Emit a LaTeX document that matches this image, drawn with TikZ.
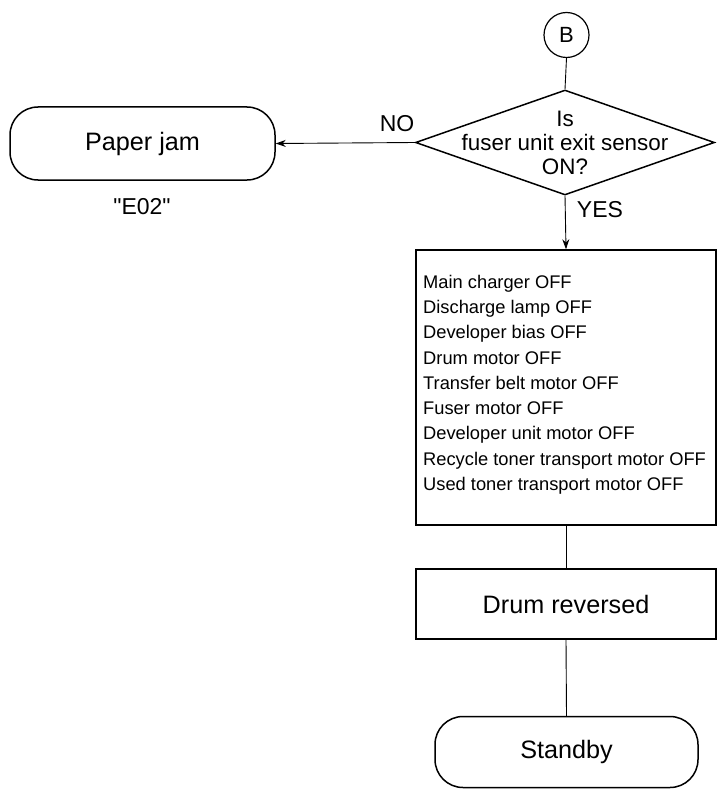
\documentclass[tikz,border=0pt]{standalone}
\usepackage{fontspec}
\setmainfont{Liberation Sans}
\usetikzlibrary{shapes.geometric,arrows.meta}
\newcommand{\straightquote}{\XeTeXglyph\XeTeXcharglyph"22\relax}
\begin{document}
\begin{tikzpicture}[x=1pt,y=-1pt,
  outline/.style={draw,line width=1.5pt,inner sep=0pt},
  termbox/.style={outline,rectangle,rounded corners=28pt,font=\fontsize{25.2}{28}\selectfont},
  procbox/.style={outline,rectangle,font=\fontsize{25.2}{28}\selectfont},
  conn/.style={line width=0.9pt},
  arr/.style={conn,-{Stealth[length=10pt,width=7pt]}},
  lbl/.style={font=\fontsize{23}{26}\selectfont,inner sep=0pt}]
\useasboundingbox (0,0) rectangle (716,789);
\node[draw,line width=1.2pt,circle,minimum size=45pt,inner sep=0pt,font=\fontsize{22}{24}\selectfont] (B) at (566.5,35) {B};
\node[outline,diamond,minimum width=299pt,minimum height=105pt,
  label={[align=center,font=\fontsize{22.4}{24}\selectfont]center:Is\\fuser unit exit sensor\\ON?}] (dec) at (565,142.5) {};
\node[termbox,minimum width=265pt,minimum height=73pt] (jam) at (142.5,143.5) {Paper jam};
\node[lbl] (e02) at (142,207) {\straightquote E02\straightquote};
\node[outline,rectangle,minimum width=300pt,minimum height=275pt] (offbox) at (566,387.5) {};
\node[anchor=north west,align=left,inner sep=0pt,font=\fontsize{18.3}{25.25}\selectfont] (offlist) at (423,275)
{Main charger OFF\\Discharge lamp OFF\\Developer bias OFF\\Drum motor OFF\\Transfer belt motor OFF\\Fuser motor OFF\\Developer unit motor OFF\\Recycle toner transport motor OFF\\Used toner transport motor OFF};
\node[procbox,minimum width=300pt,minimum height=70pt] (drum) at (566,604) {Drum reversed};
\node[termbox,minimum width=263pt,minimum height=71pt] (stby) at (566.5,752) {Standby};
\draw[conn] (B.south) -- (dec.north);
\draw[arr] (dec.west) -- (jam.east);
\draw[arr] (dec.south) -- (offbox.north);
\draw[conn] (offbox.south) -- (drum.north);
\draw[conn] (drum.south) -- (stby.north);
\node[lbl] (no) at (397,124) {NO};
\node[lbl] (yes) at (600,210) {YES};
\end{tikzpicture}
\end{document}
